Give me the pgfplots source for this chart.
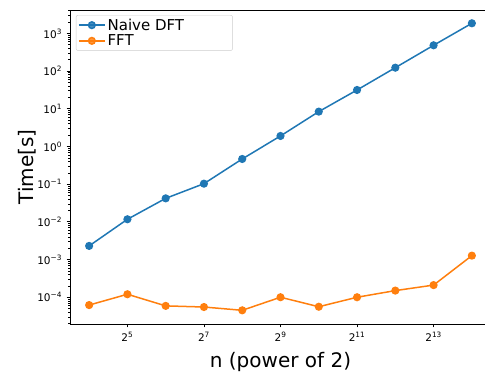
\documentclass[border=0pt]{standalone}
\usepackage{pgfplots}
\pgfplotsset{compat=1.18}
\usepackage{fontspec}
\setmainfont{DejaVu Sans}
\definecolor{tabblue}{HTML}{1F77B4}
\definecolor{taborange}{HTML}{FF7F0E}
\begin{document}
\begin{tikzpicture}
\begin{axis}[name=ax, scale only axis, width=421pt, height=314pt,
 xmode=log, ymode=log, log basis x=2,
 xmin=11.3137, xmax=23170.5,
 ymin=1.95e-5, ymax=4170,
 xtick={32,128,512,2048,8192},
 xticklabels={2\textsuperscript{5},2\textsuperscript{7},2\textsuperscript{9},2\textsuperscript{11},2\textsuperscript{13}},
 minor xtick={},
 ytick={1e-4,1e-3,1e-2,1e-1,1,10,100,1000},
 yticklabels={10\textsuperscript{−4},10\textsuperscript{−3},10\textsuperscript{−2},10\textsuperscript{−1},10\textsuperscript{0},10\textsuperscript{1},10\textsuperscript{2},10\textsuperscript{3}},
 minor ytick={2e-5,3e-5,4e-5,5e-5,6e-5,7e-5,8e-5,9e-5,
   2e-4,3e-4,4e-4,5e-4,6e-4,7e-4,8e-4,9e-4,
   2e-3,3e-3,4e-3,5e-3,6e-3,7e-3,8e-3,9e-3,
   2e-2,3e-2,4e-2,5e-2,6e-2,7e-2,8e-2,9e-2,
   0.2,0.3,0.4,0.5,0.6,0.7,0.8,0.9,
   2,3,4,5,6,7,8,9,
   20,30,40,50,60,70,80,90,
   200,300,400,500,600,700,800,900,
   2000,3000,4000},
 tick align=outside, tick pos=left,
 major tick length=3.5pt, minor tick length=2pt,
 every tick/.style={black, line width=0.8pt},
 minor tick style={line width=0.6pt},
 axis line style={line width=0.8pt},
 tick label style={font=\fontsize{10.5}{12}\selectfont},
 xticklabel style={yshift=-1pt},
 yticklabel style={xshift=-1pt},
 xlabel={n (power of 2)}, ylabel={Time[s]},
 every axis x label/.style={at={(axis description cs:0.5,-0.089)}, anchor=north, inner sep=0pt, font=\fontsize{20}{22}\selectfont},
 every axis y label/.style={at={(axis description cs:-0.081,0.5)}, rotate=90, anchor=south, inner sep=0pt, font=\fontsize{20}{22}\selectfont},
 legend style={at={(rel axis cs:0.014,0.984)}, anchor=north west, draw=black!20, rounded corners=2pt, fill=white, fill opacity=0.8, text opacity=1, font=\fontsize{15}{16}\selectfont, inner xsep=2pt, inner ysep=1.5pt, row sep=-1pt},
 legend cell align=left,
 legend image code/.code={\draw[mark repeat=2,mark phase=2,#1] plot coordinates {(0pt,0pt) (13pt,0pt) (26pt,0pt)};},
]
\addplot[tabblue, line width=1.5pt, mark=*, mark size=3.3pt, mark options={fill=tabblue}] coordinates {
 (16,2.3e-3) (32,1.17e-2) (64,4.2e-2) (128,0.103) (256,0.466) (512,1.90)
 (1024,8.4) (2048,31.5) (4096,123) (8192,483) (16384,1853)};
\addlegendentry{\makebox[121pt][l]{Naive DFT}}
\addplot[taborange, line width=1.5pt, mark=*, mark size=3.3pt, mark options={fill=taborange}] coordinates {
 (16,6.2e-5) (32,1.2e-4) (64,5.9e-5) (128,5.5e-5) (256,4.5e-5) (512,1.0e-4)
 (1024,5.6e-5) (2048,1.0e-4) (4096,1.5e-4) (8192,2.1e-4) (16384,1.27e-3)};
\addlegendentry{\makebox[121pt][l]{FFT}}
\end{axis}
\pgfresetboundingbox
\path ([xshift=-70pt,yshift=-48pt]ax.south west) rectangle ([xshift=-6pt,yshift=10pt]ax.north east);
\end{tikzpicture}
\end{document}
